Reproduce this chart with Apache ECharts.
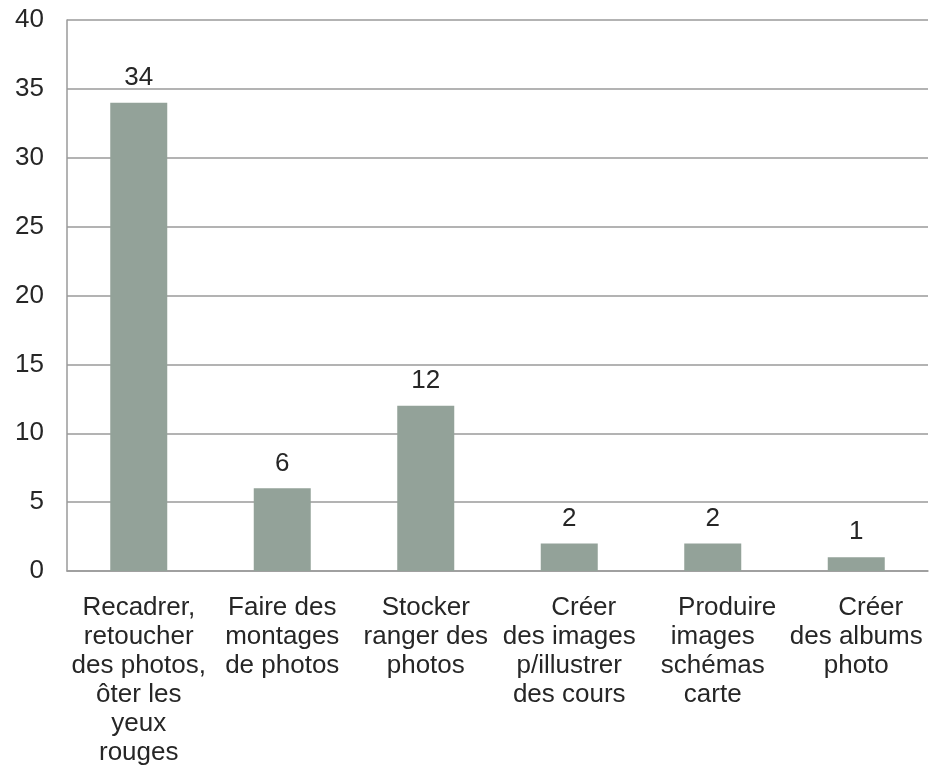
<!DOCTYPE html>
<html><head><meta charset="utf-8">
<script src="https://cdn.jsdelivr.net/npm/echarts@6/dist/echarts.min.js"></script>
<style>html,body{margin:0;padding:0;background:#fff}#c{width:939px;height:772px}</style>
</head><body><div id="c"></div>
<script>
var categories = [
  "Recadrer,\nretoucher\ndes photos,\nôter les\nyeux\nrouges",
  "Faire des\nmontages\nde photos",
  "Stocker\nranger des\nphotos",
  "    Créer\ndes images\np/illustrer\ndes cours",
  "    Produire\nimages\nschémas\ncarte",
  "    Créer\ndes albums\nphoto"
];
var values = [34, 6, 12, 2, 2, 1];
var yMin = 0, yMax = 40, yStep = 5;

var chart = echarts.init(document.getElementById('c'), null, {renderer: 'canvas'});
chart.setOption({
  animation: false,
  textStyle: {fontFamily: 'Liberation Sans, Arial, sans-serif'},
  grid: {left: 67, right: 11, top: 20, bottom: 201, containLabel: false},
  xAxis: {
    type: 'category', data: categories,
    axisLine: {show: true, lineStyle: {color: '#9a9a9a', width: 1.5}},
    axisTick: {show: false},
    axisLabel: {color: '#262626', fontSize: 26, lineHeight: 29, margin: 22, interval: 0, align: 'center'}
  },
  yAxis: {
    type: 'value', min: yMin, max: yMax, interval: yStep,
    axisLine: {show: true, lineStyle: {color: '#9a9a9a', width: 1.5}},
    axisTick: {show: false},
    splitLine: {show: true, lineStyle: {color: '#9a9a9a', width: 1.5}},
    axisLabel: {color: '#262626', fontSize: 26, margin: 23}
  },
  series: [{
    type: 'bar', data: values, barWidth: 57,
    itemStyle: {color: '#93a299'},
    label: {show: true, position: 'top', distance: 12, color: '#262626', fontSize: 26}
  }]
});
</script></body></html>
